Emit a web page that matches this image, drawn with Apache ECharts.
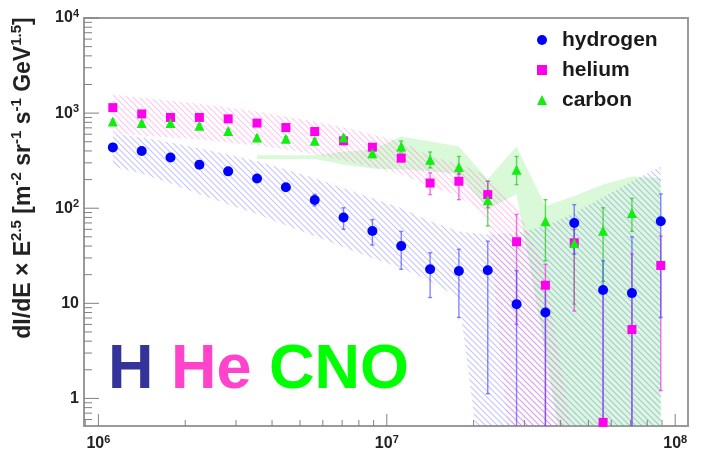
<!DOCTYPE html>
<html><head><meta charset="utf-8">
<script src="https://cdn.jsdelivr.net/npm/echarts@6/dist/echarts.min.js"></script>
<style>html,body{margin:0;padding:0;background:#fff}#c{width:726px;height:462px}</style>
</head><body><div id="c"></div>
<script>
// ---- data ----
const energies = [1.122e6, 1.413e6, 1.778e6, 2.239e6, 2.818e6, 3.548e6, 4.467e6, 5.623e6, 7.079e6, 8.913e6,
                  1.122e7, 1.413e7, 1.778e7, 2.239e7, 2.818e7, 3.548e7, 4.467e7, 5.623e7, 7.079e7, 8.913e7];
const hydrogen      = [436, 400, 342, 287, 244, 205, 166, 122, 80, 57.5, 40, 22.8, 21.9, 22.3, 9.8, 8.0, 70, 13.8, 12.8, 73];
const hydrogenErrLo = [420, 386, 328, 274, 233, 195, 156, 106, 60, 41, 22.8, 11.5, 7.1, 1.12, 0.05, 0.05, 33, 0.05, 0.05, 7.1];
const hydrogenErrHi = [452, 414, 356, 300, 255, 215, 177, 140, 101, 76, 57, 34, 37, 45, 22, 15, 109, 28, 50, 141];
const helium        = [1142, 980, 900, 900, 870, 786, 705, 640, 511, 438, 336, 184, 192, 139, 44.4, 15.5, 43.3, 0.56, 5.3, 25];
const heliumErrLo   = [1090, 935, 860, 860, 830, 750, 672, 608, 485, 405, 310, 139, 123, 101, 6.0, 0.05, 8.3, 0.05, 0.05, 1.21];
const heliumErrHi   = [1195, 1025, 940, 940, 912, 822, 740, 673, 540, 470, 372, 235, 235, 192, 86, 25.7, 60, 13.5, 33, 51];
const carbon        = [815, 786, 786, 736, 648, 554, 537, 511, 554, 379, 446, 324, 272, 121, 254, 73, 43, 58, 89, null];
const carbonErrLo   = [780, 752, 752, 704, 620, 528, 510, 485, 520, 340, 390, 265, 226, 65, 177, 28, 9.8, 17, 57, null];
const carbonErrHi   = [850, 820, 820, 768, 676, 580, 565, 540, 590, 420, 510, 390, 350, 192, 350, 123, 68, 101, 127, null];
// systematic bands
const hydrogenBandHi = [610, 554, 491, 425, 368, 311, 256, 206, 162, 127, 100, 73, 57, 53, 55, 65, 89, 130, 192, 275];
const hydrogenBandLo = [275, 232, 183, 140, 110, 87, 66, 51, 39, 30, 23.5, 17.2, 11.4, 0.05, 0.05, 0.05, 0.05, 0.05, 0.05, 0.05];
const heliumBandHi   = [1563, 1453, 1351, 1257, 1142, 1037, 919, 815, 705, 595, 502, 350, 296, 216, 105, 21.9, 0.3, null, null, null];
const heliumBandLo   = [610, 581, 554, 528, 491, 457, 415, 368, 318, 269, 227, 170, 134, 77, 0.05, 0.05, 0.05, null, null, null];
const carbonBandHi   = [null, null, null, null, null, 360, 360, 360, 395, 415, 567, 502, 446, 201, 446, 105, 134, 178, 216, 206];
const carbonBandLo   = [null, null, null, null, null, 330, 330, 330, 289, 262, 256, 244, 227, 97.5, 140, 3, 0.05, 0.05, 0.05, 0.05];
// axes
const xMajorTicks = [1e6, 1e7, 1e8];
const yMajorTicks = [1, 10, 100, 1000, 10000];
const minorMultipliers = [2, 3, 4, 5, 6, 7, 8, 9];
const seriesNames = ['hydrogen', 'helium', 'carbon'];

const FONT = 'Liberation Sans, Arial, Helvetica, sans-serif';
const X_MIN = Math.pow(10, 5.95), X_MAX = Math.pow(10, 8.0444);
const Y_MIN = Math.pow(10, -0.29), Y_MAX = 10000;

function hatch(color, dir) {
  const n = 6, c = document.createElement('canvas');
  c.width = n; c.height = n;
  const g = c.getContext('2d');
  g.strokeStyle = color; g.lineWidth = 1.1;
  g.beginPath();
  if (dir > 0) {
    g.moveTo(0, n); g.lineTo(n, 0);
    g.moveTo(-1, 1); g.lineTo(1, -1);
    g.moveTo(n - 1, n + 1); g.lineTo(n + 1, n - 1);
  } else {
    g.moveTo(0, 0); g.lineTo(n, n);
    g.moveTo(-1, n - 1); g.lineTo(1, n + 1);
    g.moveTo(n - 1, -1); g.lineTo(n + 1, 1);
  }
  g.stroke();
  return c;
}

function bandSeries(hi, lo, fill, z) {
  return {
    type: 'custom', silent: true, clip: true, z: z,
    data: [[energies[0], 1]],
    renderItem: function (params, api) {
      const top = [], bot = [];
      for (let i = 0; i < energies.length; i++) {
        if (hi[i] == null || lo[i] == null) continue;
        top.push(api.coord([energies[i], hi[i]]));
        bot.push(api.coord([energies[i], lo[i]]));
      }
      const pts = top.concat(bot.reverse());
      return { type: 'polygon', shape: { points: pts }, style: { fill: fill } };
    }
  };
}

function errSeries(lo, hi, color, z) {
  const d = [];
  for (let i = 0; i < energies.length; i++) {
    if (lo[i] == null) continue;
    d.push([energies[i], lo[i], hi[i]]);
  }
  return {
    type: 'custom', silent: true, clip: true, z: z,
    encode: { x: 0, y: [1, 2] },
    data: d,
    renderItem: function (params, api) {
      const a = api.coord([api.value(0), api.value(2)]);
      const b = api.coord([api.value(0), api.value(1)]);
      const st = { stroke: color, lineWidth: 1.4 };
      return { type: 'group', children: [
        { type: 'line', shape: { x1: a[0], y1: a[1], x2: b[0], y2: b[1] }, style: st },
        { type: 'line', shape: { x1: a[0] - 2, y1: a[1], x2: a[0] + 2, y2: a[1] }, style: st },
        { type: 'line', shape: { x1: b[0] - 2, y1: b[1], x2: b[0] + 2, y2: b[1] }, style: st }
      ]};
    }
  };
}

function zip(ys) {
  const d = [];
  for (let i = 0; i < energies.length; i++) if (ys[i] != null) d.push([energies[i], ys[i]]);
  return d;
}

// tick list (major + minor) built from the tick arrays
const tickData = [];
yMajorTicks.forEach(function (v) { tickData.push([X_MIN, v, 0, 1]); });
[0.1].concat(yMajorTicks.slice(0, 4)).forEach(function (v) {
  minorMultipliers.forEach(function (m) { const t = v * m; if (t > Y_MIN && t < Y_MAX) tickData.push([X_MIN, t, 0, 0]); });
});
xMajorTicks.forEach(function (v) { tickData.push([v, Y_MIN, 1, 1]); });
[1e5].concat(xMajorTicks.slice(0, 2)).forEach(function (v) {
  minorMultipliers.forEach(function (m) { const t = v * m; if (t > X_MIN && t < X_MAX) tickData.push([t, Y_MIN, 1, 0]); });
});

function powLabel(v) {
  const e = Math.log10(v), r = Math.round(e);
  if (Math.abs(e - r) > 1e-6) return '';
  if (r === 0) return '{n|1}';
  if (r === 1) return '{n|10}';
  return '{n|10}{s|' + r + '}';
}
const labelRich = {
  n: { fontSize: 16, fontWeight: 'bold', fontFamily: FONT, color: '#222', lineHeight: 20 },
  s: { fontSize: 11, fontWeight: 'bold', fontFamily: FONT, color: '#222', verticalAlign: 'top', lineHeight: 12 }
};

const chart = echarts.init(document.getElementById('c'), null, { renderer: 'canvas' });
chart.setOption({
  animation: false,
  backgroundColor: '#ffffff',
  grid: { left: 84, right: 38, top: 18, bottom: 36, show: true, borderColor: '#9a9a9a', borderWidth: 2, backgroundColor: 'transparent' },
  xAxis: {
    type: 'log', logBase: 10, min: X_MIN, max: X_MAX,
    axisLine: { show: false }, axisTick: { show: false }, splitLine: { show: false },
    axisLabel: { formatter: powLabel, rich: labelRich, margin: 8 }
  },
  yAxis: {
    type: 'log', logBase: 10, min: Y_MIN, max: Y_MAX,
    axisLine: { show: false }, axisTick: { show: false }, splitLine: { show: false },
    axisLabel: { formatter: powLabel, rich: labelRich, margin: 5 }
  },
  legend: {
    orient: 'vertical', left: 532, top: 24, itemWidth: 10, itemHeight: 10, itemGap: 8,
    textStyle: { fontSize: 21, fontWeight: 'bold', color: '#1a1a1a', fontFamily: FONT, lineHeight: 22, padding: [0, 0, 0, 10] },
    data: [{ name: seriesNames[0], icon: 'circle' }, { name: seriesNames[1], icon: 'rect' }, { name: seriesNames[2], icon: 'triangle' }]
  },
  graphic: [
    { type: 'text', x: 24, y: 178, rotation: Math.PI / 2, z: 10,
      style: { text: '{m|dI/dE × E}{s|2.5}{m| [m}{s|-2}{m| sr}{s|-1}{m| s}{s|-1}{m| GeV}{s|1.5}{m|]}',
        align: 'center', verticalAlign: 'middle', fill: '#222',
        rich: { m: { fontSize: 23, fontWeight: 'bold', fontFamily: FONT, lineHeight: 29, fill: '#222' },
                s: { fontSize: 15, fontWeight: 'bold', fontFamily: FONT, lineHeight: 15, verticalAlign: 'top', fill: '#222' } } } },
    { type: 'text', x: 108, y: 371, z: 10,
      style: { text: '{h|H} {he|He} {c|CNO}', verticalAlign: 'middle', align: 'left',
        rich: { h: { fontSize: 63, fontWeight: 'bold', fontFamily: FONT, fill: '#333399' },
                he: { fontSize: 63, fontWeight: 'bold', fontFamily: FONT, fill: '#ff44cc' },
                c: { fontSize: 63, fontWeight: 'bold', fontFamily: FONT, fill: '#00ff00' } },
        fontSize: 63, fontWeight: 'bold', fontFamily: FONT } }
  ],
  series: [
    bandSeries(carbonBandHi, carbonBandLo, 'rgba(120,235,120,0.28)', 1),
    bandSeries(hydrogenBandHi, hydrogenBandLo, { image: hatch('rgba(110,110,255,0.4)', -1), repeat: 'repeat' }, 2),
    bandSeries(heliumBandHi, heliumBandLo, { image: hatch('rgba(255,110,220,0.4)', -1), repeat: 'repeat' }, 3),
    errSeries(carbonErrLo, carbonErrHi, 'rgba(20,200,20,0.65)', 4),
    errSeries(heliumErrLo, heliumErrHi, 'rgba(235,40,225,0.65)', 4),
    errSeries(hydrogenErrLo, hydrogenErrHi, 'rgba(70,70,255,0.65)', 4),
    { name: 'carbon', type: 'scatter', symbol: 'triangle', symbolSize: 10, z: 6,
      itemStyle: { color: '#11ee11', opacity: 1 }, data: zip(carbon) },
    { name: 'helium', type: 'scatter', symbol: 'rect', symbolSize: 9, z: 5,
      itemStyle: { color: '#ff00ee', opacity: 1 }, data: zip(helium) },
    { name: 'hydrogen', type: 'scatter', symbol: 'circle', symbolSize: 10, z: 7,
      itemStyle: { color: '#0000ff', opacity: 1 }, data: zip(hydrogen) },
    { type: 'custom', silent: true, clip: false, z: 8,
      encode: { x: 0, y: 1 }, data: tickData,
      renderItem: function (params, api) {
        const cs = params.coordSys;
        const isX = api.value(2) === 1, major = api.value(3) === 1;
        const st = { stroke: '#808080', lineWidth: 1 };
        if (isX) {
          const p = api.coord([api.value(0), Y_MIN]);
          const len = major ? 12 : 6, yb = cs.y + cs.height;
          return { type: 'line', shape: { x1: p[0], y1: yb, x2: p[0], y2: yb - len }, style: st };
        } else {
          const p = api.coord([X_MIN, api.value(1)]);
          const len = major ? 15 : 8;
          return { type: 'line', shape: { x1: cs.x, y1: p[1], x2: cs.x + len, y2: p[1] }, style: st };
        }
      } }
  ]
});
</script></body></html>
